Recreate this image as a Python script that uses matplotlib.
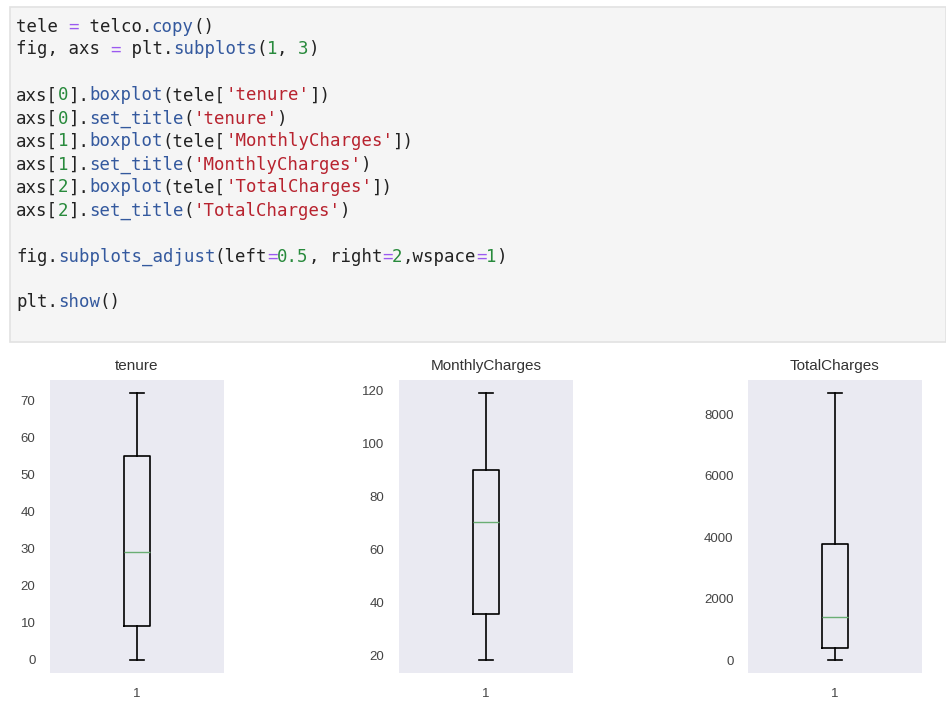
import matplotlib.pyplot as plt
from matplotlib.patches import Rectangle

W, H = 946, 715

# code cell text: (token, kind)
code_lines = [
    [("tele ", "t"), ("=", "o"), (" telco.", "t"), ("copy", "m"), ("()", "t")],
    [("fig, axs ", "t"), ("=", "o"), (" plt.", "t"), ("subplots", "m"), ("(", "t"), ("1", "n"), (", ", "t"), ("3", "n"), (")", "t")],
    [],
    [("axs[", "t"), ("0", "n"), ("].", "t"), ("boxplot", "m"), ("(tele[", "t"), ("'tenure'", "s"), ("])", "t")],
    [("axs[", "t"), ("0", "n"), ("].", "t"), ("set_title", "m"), ("(", "t"), ("'tenure'", "s"), (")", "t")],
    [("axs[", "t"), ("1", "n"), ("].", "t"), ("boxplot", "m"), ("(tele[", "t"), ("'MonthlyCharges'", "s"), ("])", "t")],
    [("axs[", "t"), ("1", "n"), ("].", "t"), ("set_title", "m"), ("(", "t"), ("'MonthlyCharges'", "s"), (")", "t")],
    [("axs[", "t"), ("2", "n"), ("].", "t"), ("boxplot", "m"), ("(tele[", "t"), ("'TotalCharges'", "s"), ("])", "t")],
    [("axs[", "t"), ("2", "n"), ("].", "t"), ("set_title", "m"), ("(", "t"), ("'TotalCharges'", "s"), (")", "t")],
    [],
    [("fig.", "t"), ("subplots_adjust", "m"), ("(left", "t"), ("=", "o"), ("0.5", "n"), (", right", "t"),
     ("=", "o"), ("2", "n"), (",wspace", "t"), ("=", "o"), ("1", "n"), (")", "t")],
    [],
    [("plt.", "t"), ("show", "m"), ("()", "t")],
]
kind_colors = {"t": "#222222", "o": "#9b59f0", "m": "#34599e", "n": "#288a3c", "s": "#b8232f"}

# boxplot statistics
titles = ["tenure", "MonthlyCharges", "TotalCharges"]
whislo = [0, 18.25, 18.8]
q1 = [9, 35.5, 401.45]
med = [29, 70.35, 1397.475]
q3 = [55, 89.85, 3794.74]
whishi = [72, 118.75, 8684.8]
yticks = [[0, 10, 20, 30, 40, 50, 60, 70],
          [20, 40, 60, 80, 100, 120],
          [0, 2000, 4000, 6000, 8000]]

fig = plt.figure(figsize=(W / 100, H / 100), dpi=100)
fig.patch.set_facecolor("white")


def fx(px):
    return px / W


def fy(py):
    return 1 - py / H


# code cell background
fig.patches.append(Rectangle((fx(10), fy(342)), fx(946) - fx(10), fy(7) - fy(342),
                             transform=fig.transFigure, facecolor="#f5f5f5",
                             edgecolor="#e2e2e2", lw=1.2))

cw = 10.45
y0, step = 31.5, 23
for i, line in enumerate(code_lines):
    col = 0
    for tok, kind in line:
        fig.text(fx(16 + col * cw), fy(y0 + i * step), tok, color=kind_colors[kind],
                 family="DejaVu Sans Mono", fontsize=12.5, va="baseline", ha="left")
        col += len(tok)

# the three boxplots
lefts = [50, 399, 748]
top, bottom, aw = 380, 673, 174
for k in range(3):
    ax = fig.add_axes([fx(lefts[k]), fy(bottom), aw / W, (bottom - top) / H])
    ax.set_facecolor("#eaeaf2")
    stats = [dict(whislo=whislo[k], q1=q1[k], med=med[k], q3=q3[k], whishi=whishi[k],
                  fliers=[], label="1")]
    ax.bxp(stats, positions=[1], widths=0.15,
           boxprops=dict(color="black", lw=1.2),
           whiskerprops=dict(color="black", lw=1.2),
           capprops=dict(color="black", lw=1.2),
           medianprops=dict(color="#6aae74", lw=1.0))
    ax.set_xlim(0.5, 1.5)
    ax.set_yticks(yticks[k])
    for s in ax.spines.values():
        s.set_visible(False)
    ax.tick_params(length=0, labelsize=9.5, labelcolor="#444444", pad=10.5)
    ax.set_title(titles[k], fontsize=11, color="#333333", family="Liberation Sans", pad=7)
    for lab in ax.get_xticklabels() + ax.get_yticklabels():
        lab.set_family("Liberation Sans")

fig.savefig("out.png", dpi=100)
